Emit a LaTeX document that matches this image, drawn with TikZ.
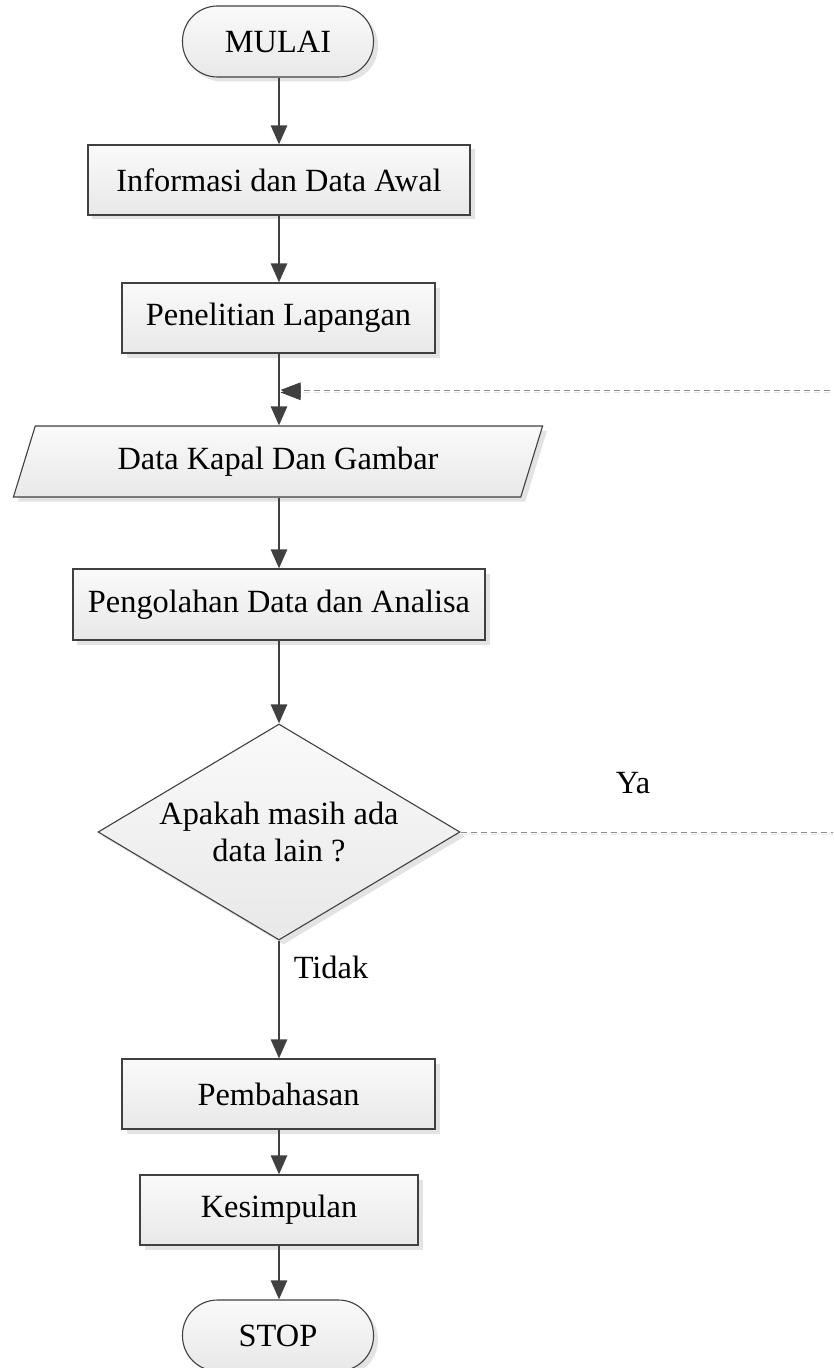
\documentclass[tikz,border=0pt]{standalone}
\usepackage{fontspec}
\setmainfont{Liberation Serif}
\usetikzlibrary{shapes.geometric,shadows,arrows.meta}
\definecolor{edge}{HTML}{404040}
\definecolor{dashc}{HTML}{8C8C8C}
\begin{document}
\begin{tikzpicture}[x=1bp,y=-1bp,
  every node/.style={font=\fontsize{32.5}{38}\selectfont, text=black},
  base/.style={draw=edge, line width=1.1bp, top color=white!98!black, bottom color=white!91!black,
     drop shadow={shadow xshift=4.5bp, shadow yshift=-4.5bp, fill=black!11, opacity=1},
     inner sep=0pt, align=center},
  procbox/.style={base, rectangle},
  termbox/.style={base, rectangle, rounded corners=35bp, minimum width=191bp, minimum height=71bp},
  iobox/.style={base, trapezium, trapezium left angle=63.8, trapezium right angle=116.2,
     trapezium stretches=true, minimum width=531bp, minimum height=71bp},
  decbox/.style={base, diamond, minimum width=362bp, minimum height=216bp, aspect=1.676},
  flow/.style={draw=edge, line width=2.6bp, -{Triangle[length=19bp,width=16bp]}},
  loopline/.style={draw=dashc, line width=1bp, dash pattern=on 6bp off 4bp,
     preaction={draw=black!10, line width=1bp, dash pattern=on 6bp off 4bp, transform canvas={yshift=-2.5bp}}},
  loophead/.style={loopline, -{Triangle[length=20bp,width=15bp,fill=edge,color=edge]}},
  lbl/.style={inner sep=0pt}
]
\useasboundingbox (0,0) rectangle (833,1368);
\clip (0,0) rectangle (833,1368);

\node[termbox] (start) at (278,41.5) {MULAI};
\node[procbox, minimum width=382bp, minimum height=70bp] (info) at (279,180) {Informasi dan Data Awal};
\node[procbox, minimum width=313bp, minimum height=70bp] (lap) at (278.5,318) {Penelitian Lapangan};
\node[iobox] (data) at (278,461.5) {Data Kapal Dan Gambar};
\node[procbox, minimum width=412bp, minimum height=71bp] (olah) at (279,604.5) {Pengolahan Data dan Analisa};
\node[decbox] (dec) at (279,832) {Apakah masih ada\\data lain ?};
\node[procbox, minimum width=313bp, minimum height=70bp] (bahas) at (278.5,1094) {Pembahasan};
\node[procbox, minimum width=278bp, minimum height=70bp] (simp) at (279,1210) {Kesimpulan};
\node[termbox] (stop) at (278,1335.5) {STOP};

\node[lbl] (ya) at (633,783) {Ya};
\node[lbl] (tidak) at (331,967) {Tidak};

\coordinate (join) at (280.5,390);
\coordinate (r1) at (840,390);
\coordinate (r2) at (840,832);

\draw[flow] (start.south -| 279,0) -- (info.north -| 279,0);
\draw[flow] (info.south -| 279,0) -- (lap.north -| 279,0);
\draw[flow] (lap.south -| 279,0) -- (data.north -| 279,0);
\draw[flow] (data.south -| 279,0) -- (olah.north -| 279,0);
\draw[flow] (olah.south -| 279,0) -- (dec.north);
\draw[flow] (dec.south) -- (bahas.north -| 279,0);
\draw[flow] (bahas.south -| 279,0) -- (simp.north -| 279,0);
\draw[flow] (simp.south -| 279,0) -- (stop.north -| 279,0);

\draw[loopline] (dec.east) -- (r2);
\draw[loophead] (r1) -- (join);
\end{tikzpicture}
\end{document}
